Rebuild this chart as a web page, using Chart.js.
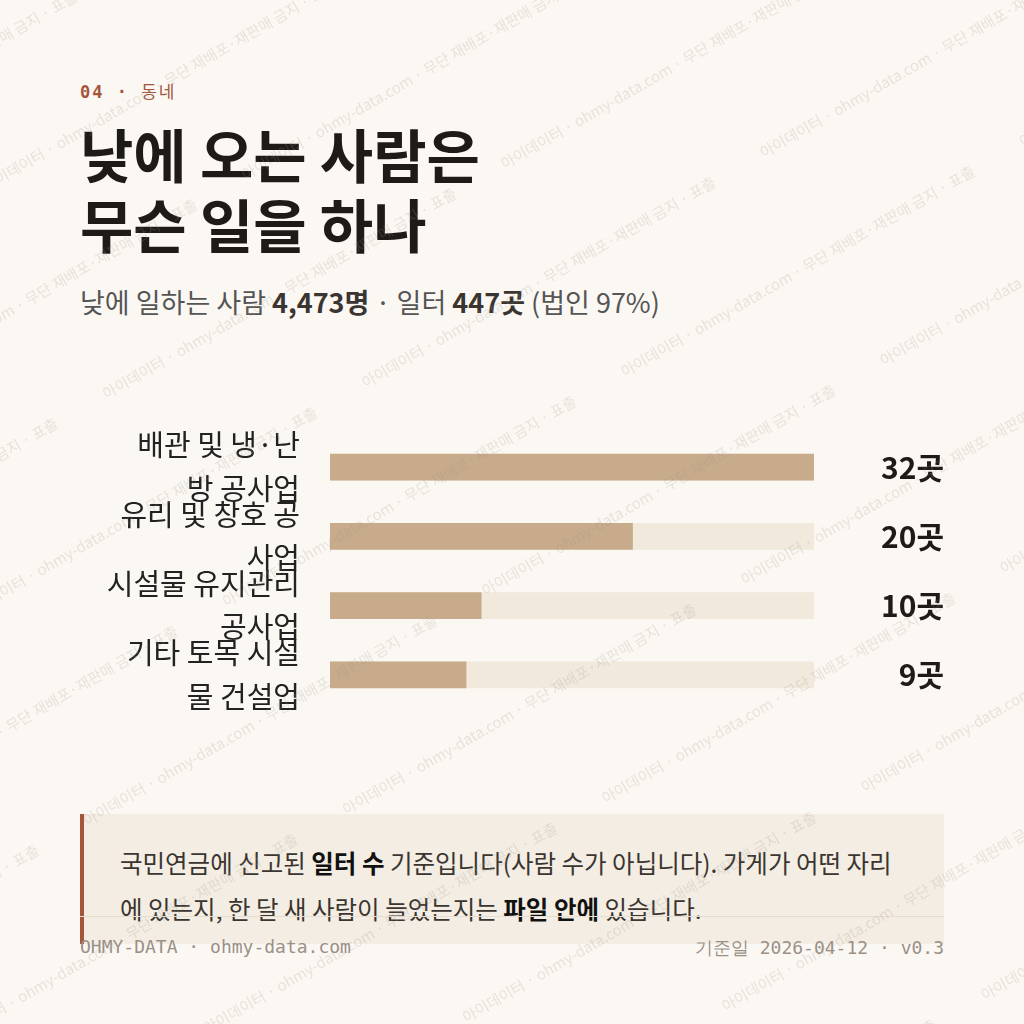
<!DOCTYPE html>
<html>
<head>
<meta charset="utf-8">
<script src="https://cdn.jsdelivr.net/npm/chart.js@4"></script>
<style>
  body { margin:0; width:1024px; height:1024px; background:#fbf8f3; font-family:"Noto Sans CJK KR","Noto Sans",sans-serif; position:relative; overflow:hidden; }
  .kicker { position:absolute; left:80px; top:78px; font-size:17px; color:#a4553b; font-family:"DejaVu Sans Mono",monospace; font-weight:bold; letter-spacing:2px; }
  .kicker span { font-family:"Noto Sans CJK KR"; font-weight:normal; }
  h1 { position:absolute; left:80px; top:118px; margin:0; font-size:58px; line-height:70px; font-weight:bold; color:#1d1a17; }
  .sub { position:absolute; left:80px; top:282px; font-size:27px; color:#555; }
  .sub b { color:#3a3530; }
  #wrap { position:absolute; left:80px; top:367px; width:864px; height:408px; }
  #chart { display:block; width:864px; height:408px; }
  .note { position:absolute; left:80px; top:814px; width:864px; height:130px; background:#f4ede3; border-left:4px solid #a4553b; box-sizing:border-box; padding:26px 36px; font-size:24.5px; line-height:46px; color:#3a3530; }
  .note b { color:#111; }
  .rule { position:absolute; left:80px; top:916px; width:864px; height:1px; background:#e6ddd0; }
  .foot { position:absolute; top:936px; font-size:18px; color:#9a9087; font-family:"DejaVu Sans Mono",monospace; }
  #wm { position:absolute; left:0; top:0; pointer-events:none; }
</style>
</head>
<body>
<div class="kicker">04 · <span>동네</span></div>
<h1>낮에 오는 사람은<br>무슨 일을 하나</h1>
<div class="sub">낮에 일하는 사람 <b>4,473명</b> · 일터 <b>447곳</b> (법인 97%)</div>
<div id="wrap"><canvas id="chart" width="864" height="408"></canvas></div>
<div class="note">국민연금에 신고된 <b>일터 수</b> 기준입니다(사람 수가 아닙니다). 가게가 어떤 자리에 있는지, 한 달 새 사람이 늘었는지는 <b>파일 안에</b> 있습니다.</div>
<div class="rule"></div>
<div class="foot" style="left:80px">OHMY-DATA · ohmy-data.com</div>
<div class="foot" style="right:80px">기준일 2026-04-12 · v0.3</div>
<canvas id="wm" width="1024" height="1024"></canvas>
<script>
const categories = [
  ["배관 및 냉·난", "방 공사업"],
  ["유리 및 창호 공", "사업"],
  ["시설물 유지관리", "공사업"],
  ["기타 토목 시설", "물 건설업"]
];
const counts = [32, 20, 10, 9];
const maxCount = 32;
const unit = "곳";

const valueLabels = {
  id: "valueLabels",
  afterDatasetsDraw(chart) {
    const ctx = chart.ctx;
    const meta = chart.getDatasetMeta(0);
    ctx.save();
    ctx.font = "bold 30px 'Noto Sans CJK KR'";
    ctx.fillStyle = "#1d1a17";
    ctx.textAlign = "right";
    ctx.textBaseline = "middle";
    meta.data.forEach((bar, i) => {
      ctx.fillText(counts[i] + unit, chart.width, bar.y);
    });
    ctx.restore();
  }
};

new Chart(document.getElementById("chart"), {
  type: "bar",
  data: {
    labels: categories,
    datasets: [
      { data: counts, backgroundColor: "#c8ab8a", barThickness: 26, grouped: false, order: 0 },
      { data: counts.map(() => maxCount), backgroundColor: "#f2e9dd", barThickness: 26, grouped: false, order: 1 }
    ]
  },
  options: {
    indexAxis: "y",
    responsive: false,
    animation: false,
    layout: { padding: { right: 130, top: 0, bottom: 0 } },
    plugins: { legend: { display: false }, tooltip: { enabled: false } },
    scales: {
      x: { min: 0, max: maxCount, display: false },
      y: {
        grid: { display: false },
        border: { display: false },
        afterFit(scale) { scale.width = 250; },
        ticks: {
          color: "#222",
          padding: 22,
          font: { size: 29, family: "Noto Sans CJK KR", lineHeight: 1.5 }
        }
      }
    }
  },
  plugins: [valueLabels]
});

// watermark
const wm = document.getElementById("wm").getContext("2d");
wm.fillStyle = "rgba(160,150,140,0.22)";
wm.font = "15px 'Noto Sans CJK KR'";
wm.translate(512, 512);
wm.rotate(-Math.PI / 6);
const wmText = "아이데이터 · ohmy-data.com · 무단 재배포·재판매 금지 · 표출 ";
for (let y = -900; y < 900; y += 120) {
  for (let x = -1100; x < 1100; x += 460) {
    wm.fillText(wmText, x + (y / 120 % 2) * 230, y);
  }
}
</script>
</body>
</html>
